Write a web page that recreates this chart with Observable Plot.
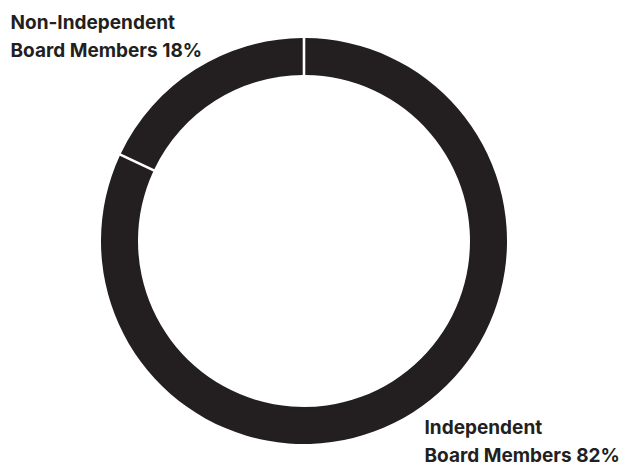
<!DOCTYPE html>
<html>
<head>
<meta charset="utf-8">
<script src="https://cdn.jsdelivr.net/npm/d3@7"></script>
<script src="https://cdn.jsdelivr.net/npm/@observablehq/plot@0.6"></script>
<style>
  html, body { margin: 0; padding: 0; background: #fff; }
  svg { display: block; }
</style>
</head>
<body>
<div id="chart"></div>
<script>
const categories = ["Independent Board Members", "Non-Independent Board Members"];
const shares = [82, 18];
const labelLines = ["Independent\nBoard Members 82%", "Non-Independent\nBoard Members 18%"];

const data = categories.map((c, i) => ({category: c, value: shares[i], label: labelLines[i]}));

const W = 622, H = 467;
const CX = 304, CY = 241, RO = 203, RI = 166;
const INK = "#231f20";

function donut(index, scales, values, dimensions, context) {
  const pie = d3.pie().sort(null).value(d => d.value);
  const arcs = pie(data);
  const arc = d3.arc().innerRadius(RI).outerRadius(RO)
    .padAngle(2.6 / ((RO + RI) / 2)).padRadius((RO + RI) / 2);
  const g = d3.create("svg:g").attr("transform", `translate(${CX},${CY})`);
  g.selectAll("path").data(arcs).join("path")
    .attr("d", arc)
    .attr("fill", INK);
  return g.node();
}

const chart = Plot.plot({
  width: W,
  height: H,
  margin: 0,
  style: {fontFamily: "Inter, sans-serif", background: "#fff"},
  marks: [
    donut,
    Plot.text([data[1]], {
      text: "label", frameAnchor: "top-left", textAnchor: "start", lineAnchor: "bottom",
      dx: 10, dy: 56.5, fontSize: 19, fontWeight: 700, lineHeight: 1.5, fill: INK
    }),
    Plot.text([data[0]], {
      text: "label", frameAnchor: "top-left", textAnchor: "start", lineAnchor: "bottom",
      dx: 424, dy: 461.5, fontSize: 19, fontWeight: 700, lineHeight: 1.5, fill: INK
    })
  ]
});
document.getElementById("chart").appendChild(chart);
</script>
</body>
</html>
